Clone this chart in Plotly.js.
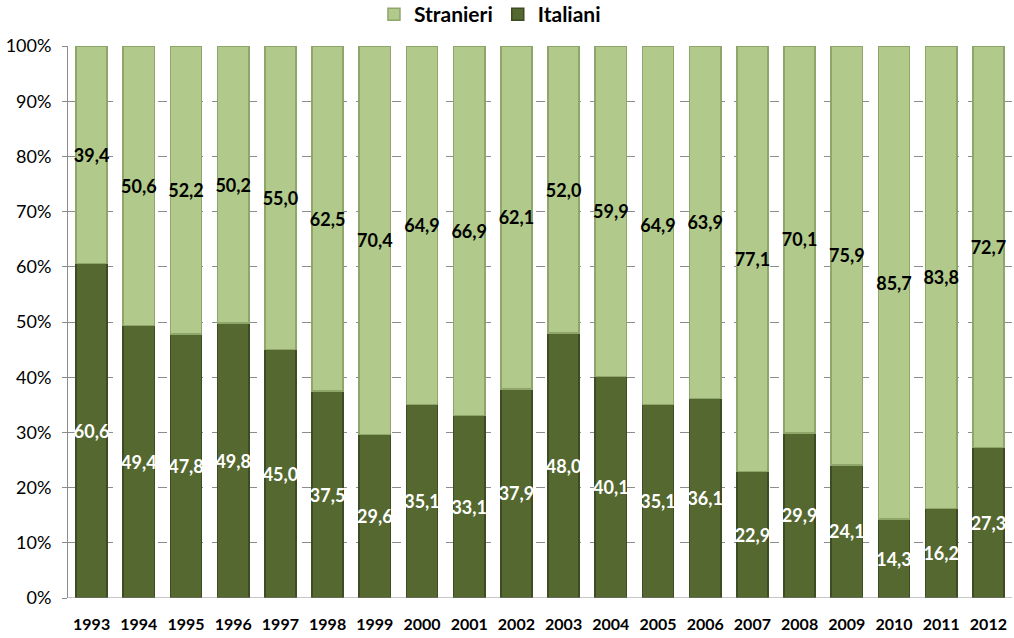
<!DOCTYPE html>
<html><head><meta charset="utf-8">
<script src="https://cdn.plot.ly/plotly-3.0.1.min.js"></script>
<style>html,body{margin:0;padding:0;background:#fff}#chart{width:1014px;height:638px}</style>
</head><body><div id="chart"></div>
<script>
const years = ['1993','1994','1995','1996','1997','1998','1999','2000','2001','2002','2003','2004','2005','2006','2007','2008','2009','2010','2011','2012'];
const italiani = [60.6,49.4,47.8,49.8,45.0,37.5,29.6,35.1,33.1,37.9,48.0,40.1,35.1,36.1,22.9,29.9,24.1,14.3,16.2,27.3];
const stranieri = [39.4,50.6,52.2,50.2,55.0,62.5,70.4,64.9,66.9,62.1,52.0,59.9,64.9,63.9,77.1,70.1,75.9,85.7,83.8,72.7];
const yTicks = [0,10,20,30,40,50,60,70,80,90,100];
const yTickLabels = yTicks.map(v => v + '%');

const fmt = v => v.toFixed(1).replace('.', ',');
const FONT = 'Lato, "Open Sans", sans-serif';

const traces = [
  {
    type: 'bar', name: 'Italiani', x: years, y: italiani,
    text: italiani.map(fmt), textposition: 'inside', insidetextanchor: 'middle',
    textangle: 0, constraintext: 'none',
    textfont: {family: FONT, size: 18, color: '#ffffff', weight: 'bold'},
    marker: {color: '#546830', line: {color: '#3d4c22', width: 1.5}},
    hoverinfo: 'skip'
  },
  {
    type: 'bar', name: 'Stranieri', x: years, y: stranieri,
    text: stranieri.map(fmt), textposition: 'inside', insidetextanchor: 'middle',
    textangle: 0, constraintext: 'none',
    textfont: {family: FONT, size: 18, color: '#000000', weight: 'bold'},
    marker: {color: '#b1c98a', line: {color: '#8fa66a', width: 1.5}},
    hoverinfo: 'skip'
  }
];

const layout = {
  width: 1014, height: 638,
  margin: {l: 68, r: 2, t: 46, b: 40, autoexpand: false},
  paper_bgcolor: '#ffffff', plot_bgcolor: '#ffffff',
  barmode: 'stack', bargap: 0.34,
  font: {family: FONT, color: '#000'},
  showlegend: true,
  legend: {
    orientation: 'h', traceorder: 'reversed',
    xref: 'paper', x: 0.447, xanchor: 'center',
    yref: 'paper', y: 1.094, yanchor: 'top',
    font: {family: FONT, size: 21, color: '#000', weight: 'bold'},
    itemwidth: 30
  },
  xaxis: {
    type: 'category', showgrid: false, zeroline: false,
    showline: false, ticks: '', automargin: false, tickangle: 0,
    tickfont: {family: FONT, size: 16, color: '#000', weight: 'bold'},
    ticklabelstandoff: 15
  },
  yaxis: {
    range: [0, 100], tickvals: yTicks, ticktext: yTickLabels, automargin: false,
    showgrid: true, gridcolor: '#8c8c8c', griddash: 'dash', gridwidth: 1,
    zeroline: false, showline: true, linecolor: '#8c8c8c', linewidth: 1,
    ticks: 'outside', ticklen: 5, tickcolor: '#8c8c8c',
    tickfont: {family: FONT, size: 18, color: '#000'},
    ticklabelstandoff: 7
  },
  shapes: [
    {type: 'line', xref: 'paper', yref: 'y', x0: 0, x1: 1, y0: 0, y1: 0, line: {color: '#8c8c8c', width: 1}}
  ]
};

Plotly.newPlot('chart', traces, layout, {staticPlot: true, displayModeBar: false});
</script></body></html>
